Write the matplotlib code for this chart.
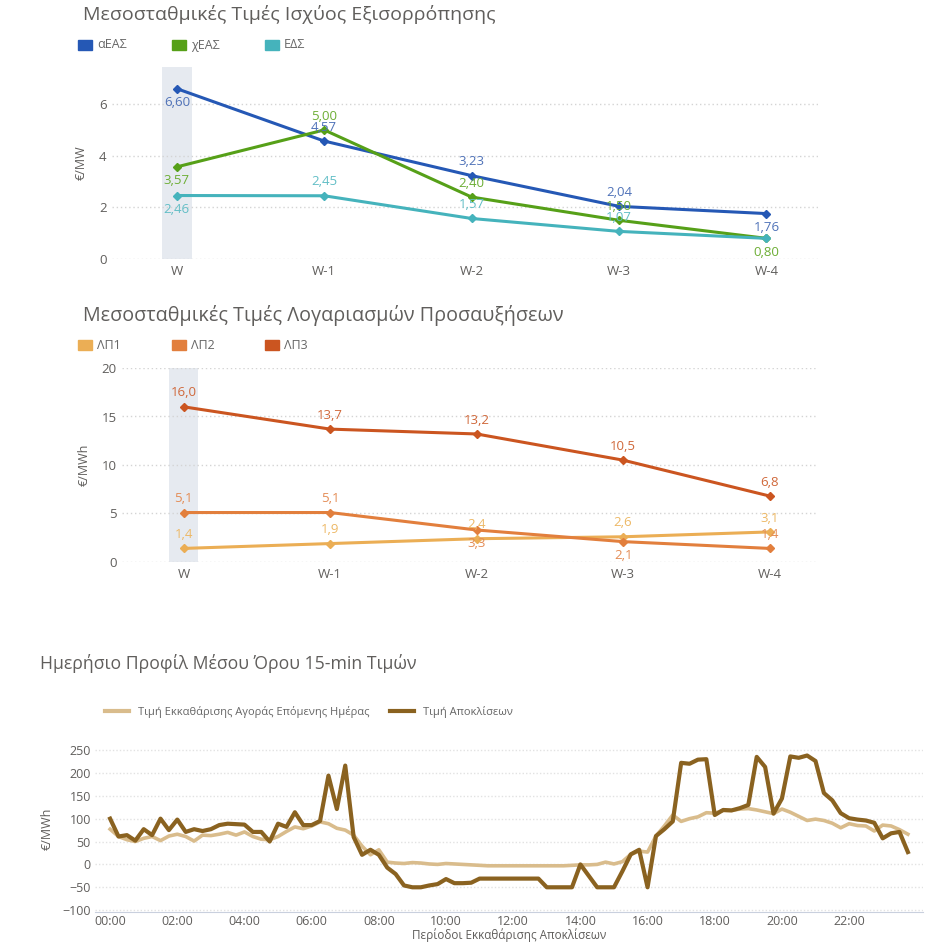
import matplotlib
matplotlib.use("Agg")
import matplotlib.pyplot as plt
from matplotlib.patches import Rectangle
from matplotlib.lines import Line2D
import numpy as np

plt.rcParams["font.family"] = ["Open Sans", "DejaVu Sans"]

# ---- data ----
weeks = ["W", "W-1", "W-2", "W-3", "W-4"]

balancing_names = ["αΕΑΣ", "χΕΑΣ", "ΕΔΣ"]
a_eas = [6.60, 4.57, 3.23, 2.04, 1.76]
x_eas = [3.57, 5.00, 2.40, 1.50, 0.80]
eds = [2.46, 2.45, 1.57, 1.07, 0.80]

uplift_names = ["ΛΠ1", "ΛΠ2", "ΛΠ3"]
lp1 = [1.4, 1.9, 2.4, 2.6, 3.1]
lp2 = [5.1, 5.1, 3.3, 2.1, 1.4]
lp3 = [16.0, 13.7, 13.2, 10.5, 6.8]

profile_names = ["Τιμή Εκκαθάρισης Αγοράς Επόμενης Ημέρας", "Τιμή Αποκλίσεων"]
dam_price = [77, 61, 54, 50, 57, 61, 52, 62, 66, 61, 51, 64, 63, 66, 70, 64,
             71, 61, 55, 54, 61, 72, 82, 78, 84, 93, 89, 79, 75, 64, 40, 21,
             32, 5, 3, 2, 4, 3, 1, 0, 2, 1, 0, -1, -2, -3, -3, -3,
             -3, -3, -3, -3, -3, -3, -3, -2, -1, -1, 0, 5, 1, 6, 22, 29,
             27, 62, 84, 108, 94, 100, 104, 113, 112, 118, 118, 121, 122, 119, 115, 111,
             121, 114, 105, 96, 99, 96, 90, 80, 89, 85, 84, 73, 86, 84, 76, 66]
imb_price = [100, 61, 64, 52, 77, 64, 100, 75, 98, 71, 77, 73, 77, 86, 89, 88,
             87, 71, 71, 50, 89, 82, 114, 86, 86, 95, 194, 121, 216, 60, 21, 32,
             21, -7, -21, -46, -50, -50, -46, -43, -32, -41, -41, -40, -31, -31, -31, -31,
             -31, -31, -31, -31, -50, -50, -50, -50, 0, -25, -50, -50, -50, -15, 22, 32,
             -50, 62, 77, 94, 222, 220, 229, 230, 108, 119, 118, 123, 130, 235, 213, 111,
             144, 236, 233, 238, 226, 156, 140, 112, 101, 98, 96, 91, 57, 68, 71, 27]

# label placement per point: +1 above, -1 below, 0 hidden
bal_pos = [[-1, 1, 1, 1, -1], [-1, 1, 1, 1, -1], [-1, 1, 1, 1, 0]]
upl_pos = [[1, 1, 1, 1, 1], [1, 1, -1, -1, 1], [1, 1, 1, 1, 1]]

bal_colors = ["#2558B5", "#56A018", "#45B3BC"]
bal_label_colors = ["#4F72B8", "#6DAE35", "#62BEC6"]
upl_colors = ["#EBAE55", "#E27F3D", "#CB5520"]
upl_label_colors = ["#EDB865", "#E48C55", "#D0683A"]
dam_color = "#D9BC8C"
imb_color = "#8A6220"

title_color = "#605E5C"
tick_color = "#605E5C"
grid_color = "#D4D4D4"
band_color = "#E6EAF0"

fig = plt.figure(figsize=(9.51, 9.46), dpi=100)
W, H = 951, 946


def fx(px):
    return px / W


def fy(py):
    return 1 - py / H


def legend_boxes(y, names, colors, xs):
    for name, col, x in zip(names, colors, xs):
        fig.patches.append(Rectangle((fx(x), fy(y + 5)), fx(14), 10 / H,
                                     transform=fig.transFigure, color=col))
        fig.text(fx(x + 19), fy(y), name, fontsize=9, color="#666666",
                 va="center", ha="left")


def line_panel(ax, series, colors, label_colors, positions, fmt):
    x = np.arange(len(weeks))
    ax.axvspan(-0.1, 0.1, color=band_color, zorder=0, lw=0)
    for vals, col, lcol, pos in zip(series, colors, label_colors, positions):
        ax.plot(x, vals, color=col, lw=2.2, marker="D", ms=4, zorder=3)
        for xi, v, p in zip(x, vals, pos):
            if p == 0:
                continue
            ax.annotate(fmt(v), (xi, v), xytext=(0, 10 * p), textcoords="offset points",
                        ha="center", va="center", fontsize=9.5, color=lcol, zorder=4)
    ax.set_xticks(x)
    ax.set_xticklabels(weeks)
    ax.grid(axis="y", color=grid_color, linestyle=(0, (1, 2)), lw=1)
    ax.set_axisbelow(True)
    for s in ax.spines.values():
        s.set_visible(False)
    ax.tick_params(length=0, colors=tick_color, labelsize=9.5, pad=4)


# ---- panel 1 ----
fig.text(fx(83), fy(15), "Μεσοσταθμικές Τιμές Ισχύος Εξισορρόπησης",
         fontsize=14, color=title_color, va="center")
legend_boxes(45, balancing_names, bal_colors, [78, 172, 265])
ax1 = fig.add_axes([fx(112), fy(259), fx(818 - 112), (259 - 67) / H])
line_panel(ax1, [a_eas, x_eas, eds], bal_colors, bal_label_colors, bal_pos,
           lambda v: f"{v:.2f}".replace(".", ","))
ax1.set_xlim(-0.44, 4.35)
ax1.set_ylim(0, 7.44)
ax1.set_yticks([0, 2, 4, 6])
ax1.set_ylabel("€/MW", fontsize=9, color=tick_color, labelpad=8)

# ---- panel 2 ----
fig.text(fx(83), fy(316), "Μεσοσταθμικές Τιμές Λογαριασμών Προσαυξήσεων",
         fontsize=14.2, color=title_color, va="center")
legend_boxes(345, uplift_names, upl_colors, [78, 172, 265])
ax2 = fig.add_axes([fx(122), fy(562), fx(818 - 122), (562 - 368) / H])
line_panel(ax2, [lp1, lp2, lp3], upl_colors, upl_label_colors, upl_pos,
           lambda v: f"{v:.1f}".replace(".", ","))
ax2.set_xlim(-0.42, 4.33)
ax2.set_ylim(0, 20)
ax2.set_yticks([0, 5, 10, 15, 20])
ax2.set_ylabel("€/MWh", fontsize=9, color=tick_color, labelpad=8)

# ---- panel 3 ----
fig.text(fx(40), fy(663), "Ημερήσιο Προφίλ Μέσου Όρου 15-min Τιμών",
         fontsize=12.7, color=title_color, va="center")
ax3 = fig.add_axes([fx(95), fy(912), fx(923 - 95), (912 - 745) / H])
hours = np.arange(len(dam_price)) / 4
ax3.plot(hours, dam_price, color=dam_color, lw=2.6, zorder=2)
ax3.plot(hours, imb_price, color=imb_color, lw=3.0, zorder=3)
ax3.set_xlim(-0.45, 24.2)
ax3.set_ylim(-104, 261)
ax3.set_yticks(range(-100, 251, 50))
ax3.set_xticks(range(0, 24, 2))
ax3.set_xticklabels([f"{h:02d}:00" for h in range(0, 24, 2)])
ax3.grid(axis="y", color="#E2E2E2", linestyle=(0, (1, 1.5)), lw=1)
ax3.set_axisbelow(True)
for name, s in ax3.spines.items():
    s.set_visible(name == "bottom")
ax3.spines["bottom"].set_color("#C9D0DE")
ax3.tick_params(length=0, colors=tick_color, labelsize=9, pad=3)
ax3.tick_params(axis="x", pad=2)
ax3.set_ylabel("€/MWh", fontsize=9, color=tick_color, labelpad=6)
ax3.set_xlabel("Περίοδοι Εκκαθάρισης Αποκλίσεων", fontsize=8.5, color=tick_color, labelpad=0)

handles = [Line2D([], [], color=dam_color, lw=3), Line2D([], [], color=imb_color, lw=3)]
fig.legend(handles, profile_names, loc="center left", bbox_to_anchor=(fx(95), fy(712)),
           ncol=2, frameon=False, fontsize=8, labelcolor="#666666",
           handlelength=2.2, columnspacing=1.8)

fig.savefig("out.png", dpi=100)
